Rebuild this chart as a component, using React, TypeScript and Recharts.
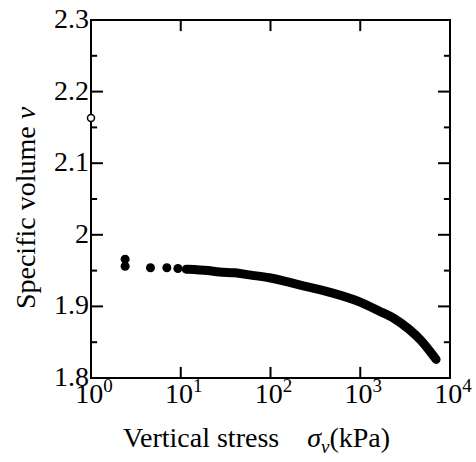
import { ScatterChart, Scatter, XAxis, YAxis, ReferenceArea, ReferenceDot, ReferenceLine } from "recharts"

// open symbol at the start of the test
const initialStress = [1]
const initialVolume = [2.163]

// separate dots
const dotStress = [2.4, 2.4, 4.6, 7, 9.3, 11.5]
const dotVolume = [1.966, 1.956, 1.954, 1.954, 1.953, 1.952]

// dense band of dots (drawn as a thick stroke)
const bandStress = [12, 20, 27, 40, 58, 97, 210, 450, 1000, 1600, 2400, 3500, 4700, 6000, 7000]
const bandVolume = [1.952, 1.95, 1.948, 1.947, 1.944, 1.94, 1.93, 1.92, 1.906, 1.894, 1.883, 1.868, 1.853, 1.837, 1.826]

const xTicks = [1, 10, 100, 1000, 10000]
const yTicks = [1.8, 1.85, 1.9, 1.95, 2, 2.05, 2.1, 2.15, 2.2, 2.25, 2.3]

const X_MIN = 1
const X_MAX = 10000
const Y_MIN = 1.8
const Y_MAX = 2.3

const FONT = "'Liberation Serif', 'Times New Roman', serif"

const toPoints = (xs: number[], ys: number[]) => xs.map((s, i) => ({ s, v: ys[i] }))

const isMajor = (v: number) => Math.abs(v * 10 - Math.round(v * 10)) < 1e-6

// inward tick lengths, in axis units (~11px vertical, ~12px / 6px horizontal)
const xTickLen = 0.0155
const yTickFactor = (v: number) => (isMajor(v) ? 1.36 : 1.17)

function BottomTick({ x, y, payload }: any) {
  const exp = Math.round(Math.log10(payload.value))
  return (
    <text x={x + 3} y={y + 25} textAnchor="middle" fontFamily={FONT} fontSize={28} fill="#000" stroke="none">
      10
      <tspan dy={-11} fontSize={19}>{exp}</tspan>
    </text>
  )
}

function LeftTick({ x, y, payload }: any) {
  if (!isMajor(payload.value)) return <g />
  return (
    <text x={x - 2} y={y + 8} textAnchor="end" fontFamily={FONT} fontSize={28} fill="#000" stroke="none">
      {String(Math.round(payload.value * 10) / 10)}
    </text>
  )
}

function YTitle({ viewBox }: any) {
  const cx = viewBox.x + 25
  const cy = viewBox.y + viewBox.height / 2 + 9
  return (
    <text
      x={cx}
      y={cy}
      transform={`rotate(-90, ${cx}, ${cy})`}
      textAnchor="middle"
      dominantBaseline="central"
      fontFamily={FONT}
      fontSize={28}
      fill="#000"
    >
      Specific volume <tspan fontStyle="italic">ν</tspan>
    </text>
  )
}

function XTitle({ viewBox }: any) {
  const cx = viewBox.x + viewBox.width / 2 - 14
  return (
    <text x={cx} y={viewBox.y + 69} textAnchor="middle" fontFamily={FONT} fontSize={28} fill="#000">
      Vertical stress{"\u00a0\u00a0\u00a0\u00a0"}
      <tspan fontStyle="italic">σ</tspan>
      <tspan fontStyle="italic" fontSize={19} dy={6}>ν</tspan>
      <tspan dy={-6}>(kPa)</tspan>
    </text>
  )
}

const tickStyle = { stroke: "#000", strokeWidth: 2, ifOverflow: "visible" as const }

export default function App() {
  return (
    <div style={{ position: "absolute", left: 0, top: 0, background: "#fff" }}>
      <ScatterChart width={476} height={462} margin={{ top: 20, right: 26, bottom: 0, left: 0 }}>
        <XAxis
          dataKey="s"
          type="number"
          scale="log"
          domain={[X_MIN, X_MAX]}
          ticks={xTicks}
          allowDataOverflow
          height={84}
          tickSize={0}
          tickMargin={0}
          tickLine={false}
          axisLine={false}
          tick={<BottomTick />}
          interval={0}
          label={{ content: XTitle }}
        />
        <YAxis
          dataKey="v"
          type="number"
          domain={[Y_MIN, Y_MAX]}
          ticks={yTicks}
          allowDataOverflow
          width={91}
          tickSize={0}
          tickMargin={0}
          tickLine={false}
          axisLine={false}
          tick={<LeftTick />}
          interval={0}
          label={{ content: YTitle }}
        />
        <ReferenceArea
          x1={X_MIN}
          x2={X_MAX}
          y1={Y_MIN}
          y2={Y_MAX}
          fill="none"
          stroke="#000"
          strokeWidth={2}
          ifOverflow="visible"
        />
        {xTicks.map((t) => (
          <ReferenceLine
            key={`b${t}`}
            segment={[{ x: t, y: Y_MIN }, { x: t, y: Y_MIN + xTickLen }]}
            {...tickStyle}
          />
        ))}
        {xTicks.map((t) => (
          <ReferenceLine
            key={`t${t}`}
            segment={[{ x: t, y: Y_MAX }, { x: t, y: Y_MAX - xTickLen }]}
            {...tickStyle}
          />
        ))}
        {yTicks.map((v) => (
          <ReferenceLine
            key={`l${v}`}
            segment={[{ x: X_MIN, y: v }, { x: X_MIN * yTickFactor(v), y: v }]}
            {...tickStyle}
          />
        ))}
        {yTicks.map((v) => (
          <ReferenceLine
            key={`r${v}`}
            segment={[{ x: X_MAX / yTickFactor(v), y: v }, { x: X_MAX, y: v }]}
            {...tickStyle}
          />
        ))}
        <Scatter
          data={toPoints(bandStress, bandVolume)}
          line={{ stroke: "#000", strokeWidth: 9, strokeLinecap: "round", strokeLinejoin: "round" }}
          lineJointType="monotoneX"
          shape={() => <g />}
          isAnimationActive={false}
        />
        <Scatter
          data={toPoints(dotStress, dotVolume)}
          shape={(p: any) => <circle cx={p.cx} cy={p.cy} r={4.5} fill="#000" />}
          isAnimationActive={false}
        />
        <ReferenceDot
          x={initialStress[0]}
          y={initialVolume[0]}
          r={3.5}
          fill="#fff"
          stroke="#000"
          strokeWidth={1.5}
          ifOverflow="visible"
        />
      </ScatterChart>
    </div>
  )
}
